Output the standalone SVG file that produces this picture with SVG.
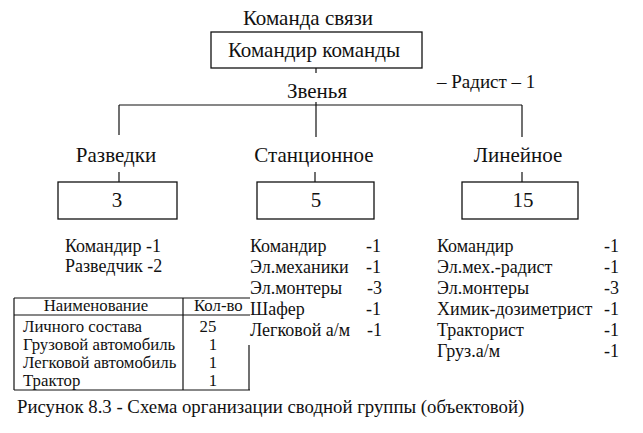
<svg xmlns="http://www.w3.org/2000/svg" width="643" height="433" viewBox="0 0 643 433">
<style>
text{font-family:"Liberation Serif","Times New Roman","DejaVu Serif",serif;fill:#111}
.t21{font-size:21px}
.t19{font-size:19px}
.t18{font-size:18px}
.t17{font-size:16.8px}
.box{fill:#fff;stroke:#111;stroke-width:1.3}
.ln{stroke:#111;stroke-width:1.2;fill:none}
.c{text-anchor:middle}
.e{text-anchor:end}
</style>
<defs>
<clipPath id="tclip"><rect x="0" y="290" width="249" height="110"/></clipPath>
</defs>
<rect width="643" height="433" fill="#fff"/>
<g id="connectors">
<line class="ln" x1="316" y1="68" x2="316" y2="73"/>
<line class="ln" x1="316" y1="102" x2="316" y2="137"/>
<line class="ln" x1="119" y1="105" x2="522" y2="105"/>
<line class="ln" x1="119" y1="105" x2="119" y2="135"/>
<line class="ln" x1="522" y1="105" x2="522" y2="137"/>
<line class="ln" x1="119" y1="172" x2="119" y2="182"/>
<line class="ln" x1="315" y1="172" x2="315" y2="182"/>
<line class="ln" x1="522" y1="172" x2="522" y2="182"/>
</g>
<g id="node-command">
<text class="t21 c" x="308" y="25">Команда связи</text>
<rect class="box" x="211" y="32" width="211" height="36"/>
<text class="t21 c" x="314" y="57">Командир команды</text>
</g>
<g id="node-radist">
<text class="t19" x="437" y="88">– Радист – 1</text>
</g>
<g id="node-zvenya">
<text class="t21 c" x="317" y="98">Звенья</text>
</g>
<g id="node-razvedki">
<text class="t21 c" x="116" y="162">Разведки</text>
<rect class="box" x="58" y="182" width="119" height="37"/>
<text class="t21 c" x="117" y="207">3</text>
<text class="t18" x="65" y="252">Командир -1</text>
<text class="t18" x="65" y="272">Разведчик -2</text>
</g>
<g id="node-station">
<text class="t21 c" x="314" y="162">Станционное</text>
<rect class="box" x="257" y="182" width="117" height="37"/>
<text class="t21 c" x="316" y="207">5</text>
<text class="t18" x="250" y="252">Командир</text>
<text class="t18" x="250" y="273">Эл.механики</text>
<text class="t18" x="250" y="294">Эл.монтеры</text>
<text class="t18" x="250" y="315">Шафер</text>
<text class="t18" x="250" y="336">Легковой а/м</text>
<text class="t18 e" x="381" y="252">-1</text>
<text class="t18 e" x="381" y="273">-1</text>
<text class="t18 e" x="382" y="294">-3</text>
<text class="t18 e" x="381" y="315">-1</text>
<text class="t18 e" x="382" y="336">-1</text>
</g>
<g id="node-linear">
<text class="t21 c" x="518" y="162">Линейное</text>
<rect class="box" x="462" y="182" width="116" height="37"/>
<text class="t21 c" x="523" y="207">15</text>
<text class="t18" x="437" y="252">Командир</text>
<text class="t18" x="437" y="273">Эл.мех.-радист</text>
<text class="t18" x="437" y="294">Эл.монтеры</text>
<text class="t18" x="437" y="315">Химик-дозиметрист</text>
<text class="t18" x="437" y="336">Тракторист</text>
<text class="t18" x="437" y="357">Груз.а/м</text>
<text class="t18 e" x="619" y="252">-1</text>
<text class="t18 e" x="619" y="273">-1</text>
<text class="t18 e" x="619" y="294">-3</text>
<text class="t18 e" x="619" y="315">-1</text>
<text class="t18 e" x="619" y="336">-1</text>
<text class="t18 e" x="619" y="357">-1</text>
</g>
<g id="table">
<line class="ln" x1="14" y1="298" x2="250" y2="298"/>
<line class="ln" x1="14" y1="315" x2="250" y2="315"/>
<line class="ln" x1="14" y1="390" x2="250" y2="390"/>
<line class="ln" x1="14" y1="298" x2="14" y2="390"/>
<line class="ln" x1="183" y1="298" x2="183" y2="390"/>
<line class="ln" x1="249" y1="345" x2="249" y2="390"/>
<g clip-path="url(#tclip)">
<text class="t17 c" x="96" y="311">Наименование</text>
<text class="t17" x="194" y="311">Кол-во</text>
<text class="t17" x="23" y="332">Личного состава</text>
<text class="t17" x="23" y="350">Грузовой автомобиль</text>
<text class="t17" x="23" y="368">Легковой автомобиль</text>
<text class="t17" x="23" y="386">Трактор</text>
<text class="t17 c" x="208" y="332">25</text>
<text class="t17 c" x="213" y="350">1</text>
<text class="t17 c" x="213" y="368">1</text>
<text class="t17 c" x="213" y="386">1</text>
</g>
</g>
<g id="caption">
<text x="17" y="413" style="font-size:18.8px">Рисунок 8.3 - Схема организации сводной группы (объектовой)</text>
</g>
</svg>
